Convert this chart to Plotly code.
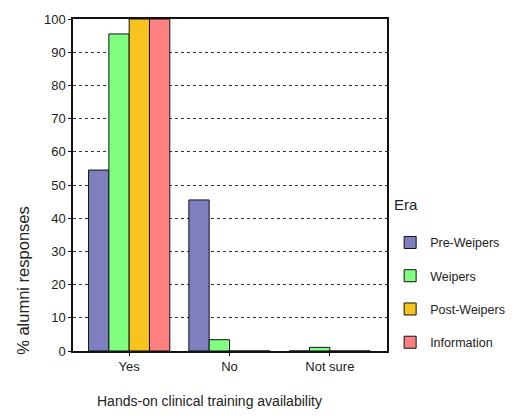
import plotly.graph_objects as go

# Share of alumni reporting hands-on clinical training, by era
categories = ["Yes", "No", "Not sure"]
eras = ["Pre-Weipers", "Weipers", "Post-Weipers", "Information"]
pre_weipers = [54.5, 45.5, 0]
weipers = [95.5, 3.4, 1.1]
post_weipers = [100, 0, 0]
information = [100, 0, 0]
y_ticks = list(range(0, 101, 10))

series = [pre_weipers, weipers, post_weipers, information]
colors = ["#7F7FBF", "#80FF80", "#F7C31E", "#FF8080"]

font_family = "Arial, Liberation Sans, sans-serif"

# plot area in pixels
L, R, T, B = 73, 398, 14, 351
W, H = R - L, B - T

fig = go.Figure()
for name, vals, col in zip(eras, series, colors):
    fig.add_trace(go.Bar(
        x=categories, y=vals, name=name,
        marker=dict(color=col, line=dict(color="#111111", width=1)),
        legendgroup=name,
    ))

fig.update_layout(
    width=522, height=417,
    margin=dict(l=L, r=522 - R, t=T, b=417 - B),
    paper_bgcolor="white", plot_bgcolor="white",
    barmode="group", bargap=0.19, bargroupgap=0,
    font=dict(family=font_family, color="#222222", size=12),
    showlegend=True,
    legend=dict(
        x=1.01, xanchor="left", y=(B - 226) / H, yanchor="top",
        font=dict(size=12.5, color="#222222"),
        tracegroupgap=14, itemwidth=30,
        bgcolor="rgba(0,0,0,0)",
    ),
    xaxis=dict(
        type="category", range=[-0.56, 2.57],
        showline=True, linecolor="#111111", linewidth=1.5, mirror=True,
        ticks="outside", ticklen=3, tickcolor="#111111",
        tickfont=dict(size=13, color="#222222"),
        showgrid=False,
    ),
    yaxis=dict(
        range=[0, 100], tickvals=y_ticks,
        showline=True, linecolor="#111111", linewidth=1.5, mirror=True,
        ticks="outside", ticklen=3, tickcolor="#111111",
        tickfont=dict(size=13, color="#222222"),
        showgrid=True, gridcolor="#333333", gridwidth=1, griddash="3px,3px",
        zeroline=False,
    ),
    annotations=[
        dict(text="Era", xref="paper", yref="paper",
             x=(403 - L) / W, y=(B - 202) / H, xanchor="left", yanchor="middle",
             showarrow=False, font=dict(size=15, color="#222222")),
        dict(text="Hands-on clinical training availability", xref="paper", yref="paper",
             x=(214 - L) / W, y=-(402 - B) / H, xanchor="center", yanchor="middle",
             showarrow=False, font=dict(size=14, color="#222222")),
        dict(text="% alumni responses", xref="paper", yref="paper",
             x=-(L - 21) / W, y=(B - 279) / H, xanchor="center", yanchor="middle",
             textangle=-90, showarrow=False, font=dict(size=16.5, color="#222222")),
    ],
)

fig.write_html("out.html")
